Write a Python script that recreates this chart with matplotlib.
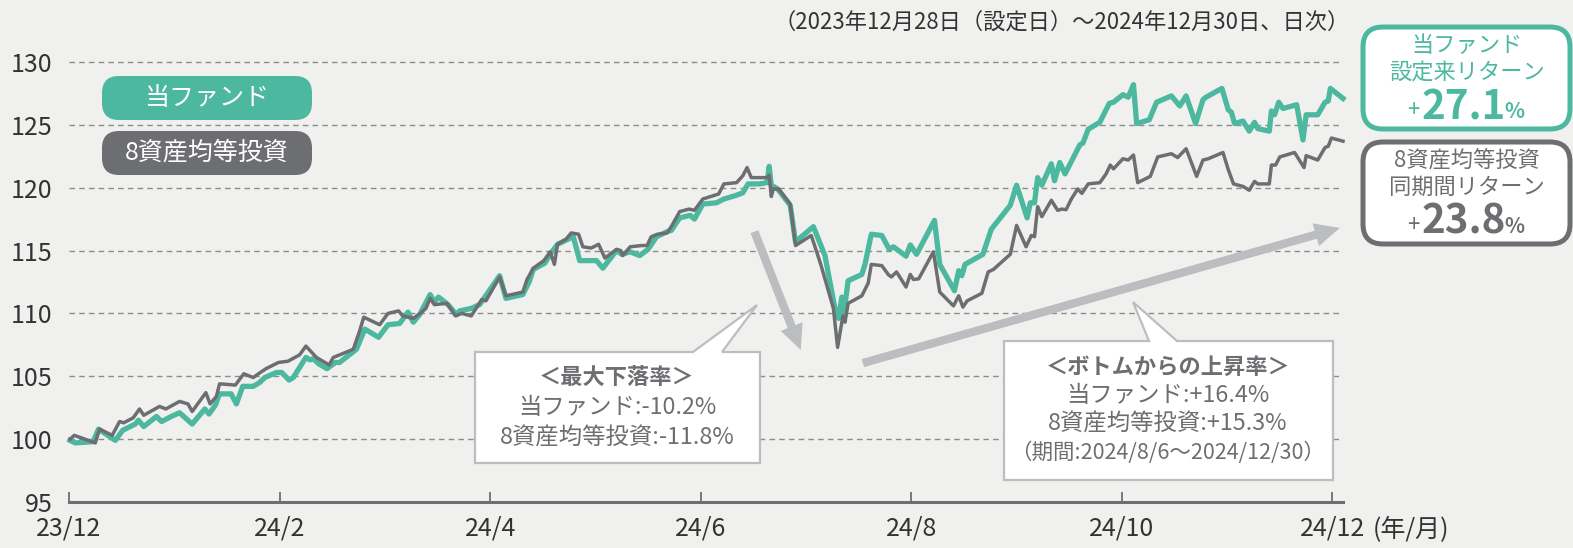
import matplotlib
matplotlib.use('Agg')
import matplotlib.pyplot as plt
from matplotlib.patches import Polygon, FancyBboxPatch
from matplotlib.text import Annotation

plt.rcParams['font.family'] = ['Noto Sans CJK JP', 'DejaVu Sans']

# x = months after the fund's start (23/12)
fund_x = [0.01, 0.06, 0.23, 0.28, 0.44, 0.51, 0.63, 0.66, 0.71, 0.83, 0.88, 0.97, 1.05, 1.17, 1.24,
          1.29, 1.33, 1.39, 1.43, 1.54, 1.59, 1.65, 1.75, 1.81, 1.86, 1.97, 2.02, 2.09, 2.13, 2.25,
          2.29, 2.32, 2.37, 2.45, 2.53, 2.57, 2.73, 2.81, 2.94, 3.03, 3.14, 3.22, 3.27, 3.33, 3.43,
          3.47, 3.51, 3.60, 3.68, 3.71, 3.82, 3.90, 4.09, 4.15, 4.31, 4.37, 4.41, 4.52, 4.57, 4.64,
          4.79, 4.85, 4.92, 5.01, 5.07, 5.20, 5.25, 5.33, 5.42, 5.50, 5.58, 5.68, 5.72, 5.80, 5.90,
          5.94, 6.02, 6.15, 6.22, 6.34, 6.40, 6.45, 6.56, 6.63, 6.65, 6.67, 6.73, 6.85, 6.90, 7.07,
          7.18, 7.27, 7.31, 7.34, 7.36, 7.40, 7.53, 7.56, 7.62, 7.72, 7.79, 7.83, 7.95, 7.99, 8.05,
          8.22, 8.27, 8.41, 8.45, 8.48, 8.51, 8.68, 8.76, 8.94, 9.00, 9.10, 9.13, 9.17, 9.20, 9.24,
          9.33, 9.36, 9.41, 9.46, 9.60, 9.63, 9.68, 9.79, 9.88, 9.92, 10.01, 10.06, 10.11, 10.14,
          10.26, 10.33, 10.47, 10.55, 10.61, 10.70, 10.77, 10.80, 10.95, 11.01, 11.04, 11.07, 11.15,
          11.21, 11.26, 11.29, 11.40, 11.42, 11.45, 11.49, 11.53, 11.66, 11.72, 11.75, 11.86, 11.93,
          11.96, 11.98, 12.10]
fund = [99.9, 99.7, 99.8, 100.8, 99.9, 100.7, 101.2, 101.5, 101.0, 101.8, 101.4, 101.8, 102.1, 101.2, 101.9,
        102.4, 102.0, 102.7, 103.6, 103.6, 102.8, 104.2, 104.2, 104.5, 104.9, 105.3, 105.3, 104.7, 104.9, 106.5,
        106.3, 106.4, 106.0, 105.6, 106.1, 106.1, 107.15, 108.75, 108.1, 109.1, 109.2, 110.1, 109.3, 109.9, 111.5,
        110.9, 111.3, 110.7, 109.9, 110.2, 110.4, 110.7, 113.0, 111.2, 111.5, 112.5, 113.5, 114.0, 114.7, 115.5,
        116.1, 114.2, 114.2, 114.2, 113.6, 115.0, 114.7, 114.9, 114.6, 115.1, 116.1, 116.5, 116.6, 117.6, 117.8,
        117.5, 118.7, 118.8, 119.1, 119.4, 119.6, 120.3, 120.3, 120.4, 121.7, 120.2, 119.9, 118.6, 115.7, 116.9,
        114.6, 110.6, 109.6, 111.3, 110.0, 112.6, 113.1, 113.9, 116.3, 116.2, 115.1, 115.3, 114.55, 115.45, 114.7,
        117.4, 113.9, 111.8, 113.4, 113.0, 113.9, 114.7, 116.7, 118.6, 120.2, 117.6, 118.8, 118.8, 120.8, 120.2,
        121.9, 120.55, 122.0, 121.1, 123.4, 123.55, 124.65, 125.2, 126.7, 126.8, 127.4, 127.2, 128.2, 125.1,
        125.4, 126.8, 127.3, 126.5, 127.3, 125.1, 127.0, 127.2, 127.9, 126.2, 126.0, 125.1, 125.3,
        124.5, 125.2, 124.7, 124.5, 126.1, 125.8, 126.8, 126.3, 126.6, 123.8, 125.8, 125.8, 126.8,
        126.9, 127.9, 127.1]

bal_x = [0.01, 0.05, 0.25, 0.29, 0.41, 0.48, 0.52, 0.61, 0.67, 0.71, 0.86, 0.92, 1.05, 1.13, 1.17,
         1.30, 1.34, 1.40, 1.43, 1.58, 1.66, 1.75, 1.80, 1.87, 1.99, 2.08, 2.19, 2.25, 2.35, 2.47,
         2.51, 2.57, 2.70, 2.76, 2.80, 2.95, 3.03, 3.13, 3.17, 3.22, 3.27, 3.35, 3.39, 3.43, 3.47,
         3.59, 3.67, 3.73, 3.82, 3.92, 3.96, 4.09, 4.15, 4.31, 4.35, 4.41, 4.51, 4.57, 4.61, 4.64,
         4.72, 4.77, 4.84, 4.88, 4.96, 5.03, 5.09, 5.20, 5.24, 5.26, 5.33, 5.44, 5.49, 5.53, 5.59,
         5.68, 5.72, 5.80, 5.89, 5.94, 6.02, 6.17, 6.22, 6.34, 6.40, 6.44, 6.48, 6.63, 6.65, 6.67,
         6.69, 6.74, 6.85, 6.90, 7.05, 7.14, 7.26, 7.30, 7.35, 7.37, 7.40, 7.53, 7.59, 7.62, 7.72,
         7.78, 7.81, 7.86, 7.95, 7.99, 8.02, 8.07, 8.21, 8.27, 8.40, 8.45, 8.49, 8.53, 8.67, 8.73,
         8.78, 8.94, 9.00, 9.09, 9.14, 9.17, 9.20, 9.24, 9.33, 9.39, 9.43, 9.47, 9.52, 9.58, 9.62,
         9.68, 9.79, 9.85, 9.89, 9.92, 10.01, 10.06, 10.11, 10.15, 10.27, 10.34, 10.47, 10.53, 10.61,
         10.71, 10.77, 10.82, 10.96, 11.01, 11.06, 11.15, 11.21, 11.26, 11.29, 11.40, 11.42, 11.46,
         11.50, 11.64, 11.73, 11.75, 11.86, 11.93, 11.96, 11.99, 12.10]
bal = [100.0, 100.3, 99.7, 100.8, 100.3, 101.4, 101.3, 101.7, 102.4, 101.9, 102.6, 102.4, 103.0, 102.8, 102.2,
       103.7, 102.8, 103.4, 104.4, 104.3, 105.2, 104.9, 105.2, 105.6, 106.1, 106.2, 106.7, 107.4, 106.5, 105.9,
       106.5, 106.7, 107.15, 108.6, 109.7, 109.1, 110.0, 110.2, 109.8, 109.7, 109.6, 110.1, 110.4, 111.2, 110.7,
       110.8, 109.8, 110.0, 109.8, 111.1, 111.0, 112.9, 111.4, 111.7, 112.7, 113.6, 114.2, 114.9, 113.9, 115.5,
       115.9, 116.4, 116.3, 115.3, 115.2, 115.5, 114.4, 115.1, 115.0, 114.6, 115.3, 115.4, 115.4, 116.1, 116.3,
       116.4, 116.9, 118.1, 118.3, 118.2, 119.1, 119.5, 120.3, 120.4, 120.95, 121.6, 120.8, 120.8, 121.0, 119.3,
       119.9, 119.9, 118.7, 115.4, 116.2, 113.9, 110.4, 107.3, 109.8, 109.3, 110.8, 111.4, 112.4, 113.9, 113.8,
       113.1, 112.9, 113.3, 112.1, 113.1, 112.7, 112.75, 114.9, 111.7, 110.6, 111.4, 110.5, 111.0, 111.6, 113.3,
       113.5, 114.7, 117.0, 115.3, 116.2, 116.1, 118.5, 117.7, 119.0, 118.2, 118.3, 118.25, 119.1, 119.9, 119.55,
       120.3, 120.4, 121.1, 121.8, 121.5, 122.3, 122.2, 122.6, 120.4, 120.9, 122.45, 122.7, 122.4, 123.1,
       120.9, 122.2, 122.3, 122.8, 121.45, 120.3, 120.1, 119.8, 120.5, 120.3, 120.3, 121.8, 121.8,
       122.45, 122.8, 121.6, 122.55, 122.2, 123.2, 123.3, 123.95, 123.7]

tick_pos = [0, 2, 4, 6, 8, 10, 12]
tick_labels = ['23/12', '24/2', '24/4', '24/6', '24/8', '24/10', '24/12']
y_ticks = [95, 100, 105, 110, 115, 120, 125, 130]

TEAL = '#4cb8a0'
GRAY = '#6d6e71'
LIGHT = '#bcbdc0'
BG = '#f0f1ee'

W, H = 1573, 548
fig = plt.figure(figsize=(W / 100, H / 100), dpi=100, facecolor=BG)
ax = fig.add_axes([69 / W, 46 / H, (1343 - 69) / W, (502 - 49.4) / H])
ax.set_facecolor(BG)

ax.plot(fund_x, fund, color=TEAL, lw=3.8, solid_joinstyle='round', clip_on=False, zorder=3)
ax.plot(bal_x, bal, color=GRAY, lw=2.5, solid_joinstyle='round', clip_on=False, zorder=4)

ax.set_xlim(0, 12.10)
ax.set_ylim(95, 131)
ax.set_yticks(y_ticks)
ax.set_xticks(tick_pos)
ax.set_xticklabels(tick_labels)
ax.yaxis.grid(True, linestyle=(0, (4, 3)), color='#8c8c8c', lw=1)
ax.set_axisbelow(True)
for s in ['top', 'right', 'left']:
    ax.spines[s].set_visible(False)
ax.spines['bottom'].set_color(GRAY)
ax.spines['bottom'].set_linewidth(2.2)
ax.tick_params(axis='y', length=0, pad=12, labelsize=18, labelcolor='#333333')
ax.tick_params(axis='x', direction='in', length=7, width=1.3, color=GRAY, pad=10,
               labelsize=18, labelcolor='#333333')

# helpers: pixel position of the reference picture -> figure fraction / inches
def fx(x):
    return x / W

def fy(y):
    return 1 - y / H

def inch(x, y):
    return (x / 100, (H - y) / 100)

fig.text(fx(1373), fy(530), '(年/月)', ha='left', va='center', fontsize=18, color='#333333')
fig.text(fx(1350), fy(22), '（2023年12月28日（設定日）～2024年12月30日、日次）',
         ha='right', va='center', fontsize=16, color='#333333')

# legend pills
for label, col, top in [('当ファンド', TEAL, 76), ('8資産均等投資', GRAY, 131)]:
    p = FancyBboxPatch(inch(102, top + 44), 2.10, 0.44, boxstyle='round,pad=0,rounding_size=0.17',
                       transform=fig.dpi_scale_trans, fc=col, ec='none')
    fig.add_artist(p)
    fig.text(fx(207), fy(top + 22), label, ha='center', va='center', fontsize=18, color='white')

# arrows
arrow_kw = dict(arrowstyle='simple,head_length=0.9,head_width=0.85,tail_width=0.3',
                mutation_scale=20, color=LIGHT, lw=0, shrinkA=0, shrinkB=0)
ax.annotate('', xy=(6.95, 107.1), xytext=(6.51, 116.5), arrowprops=arrow_kw, zorder=5)
ax.annotate('', xy=(12.07, 116.8), xytext=(7.54, 106.05), arrowprops=arrow_kw, zorder=5,
            annotation_clip=False)

# callouts
def callout(pts):
    poly = Polygon([inch(x, y) for x, y in pts], closed=True, transform=fig.dpi_scale_trans,
                   fc='white', ec=LIGHT, lw=1.6, joinstyle='miter')
    fig.add_artist(poly)

callout([(475, 352), (693, 352), (757, 305), (722, 352), (760, 352), (760, 463), (475, 463)])
box1 = ['＜最大下落率＞', '当ファンド:-10.2%', '8資産均等投資:-11.8%']
for i, line in enumerate(box1):
    fig.text(fx(617), fy(378 + 30 * i), line, ha='center', va='center',
             fontsize=16 if i == 0 else 16.8, color=GRAY,
             fontweight='bold' if i == 0 else 'normal')

callout([(1004, 341), (1149, 341), (1133, 302), (1177, 341), (1333, 341), (1333, 480), (1004, 480)])
box2 = ['＜ボトムからの上昇率＞', '当ファンド:+16.4%', '8資産均等投資:+15.3%',
        '（期間:2024/8/6～2024/12/30）']
for i, line in enumerate(box2):
    fig.text(fx(1168), fy(367 + 28.5 * i), line, ha='center', va='center',
             fontsize=[16, 16.8, 16.8, 15.5][i], color=GRAY,
             fontweight='bold' if i == 0 else 'normal')

# return boxes on the right
def return_box(top, col, lines, value):
    p = FancyBboxPatch(inch(1363, top + 102), 2.07, 1.02, boxstyle='round,pad=0,rounding_size=0.2',
                       transform=fig.dpi_scale_trans, fc='white', ec=col, lw=3.6)
    fig.add_artist(p)
    for i, line in enumerate(lines):
        fig.text(fx(1467), fy(top + 19 + 26 * i), line, ha='center', va='center', fontsize=16, color=col)
    t = fig.text(fx(1464), fy(top + 92), value, ha='center', va='baseline', fontsize=29,
                 fontweight='bold', color=col)
    plus = Annotation('+', xy=(0, 0), xycoords=t, xytext=(-2, 4), textcoords='offset points',
                      ha='right', va='bottom', fontsize=16, color=col)
    pct = Annotation('%', xy=(1, 0), xycoords=t, xytext=(-1, 4), textcoords='offset points',
                     ha='left', va='bottom', fontsize=15, fontweight='bold', color=col)
    fig.add_artist(plus)
    fig.add_artist(pct)
    plus.set_zorder(5)
    pct.set_zorder(5)

return_box(27, TEAL, ['当ファンド', '設定来リターン'], '27.1')
return_box(142, GRAY, ['8資産均等投資', '同期間リターン'], '23.8')

fig.savefig('out.png', dpi=100, facecolor=BG)
